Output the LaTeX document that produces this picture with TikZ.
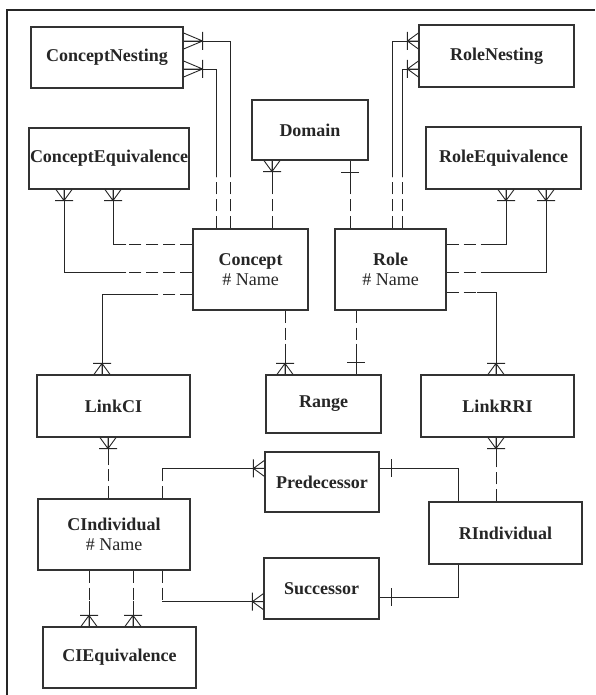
\documentclass[tikz,border=0pt]{standalone}
\usepackage{fontspec}
\setmainfont{Liberation Serif}
\usetikzlibrary{calc}

\tikzset{
  ent/.style={draw=black!80, line width=1.2pt, fill=white, align=center, inner sep=0pt,
    font=\fontsize{18}{20}\selectfont\bfseries},
  opt/.style={dash pattern=on 12pt off 5pt},
  pics/crow/.style={code={
    \draw (0,-8) -- (#1,0) (0,0) -- (#1,0) (0,8) -- (#1,0) (#1,-9) -- (#1,9);}},
  pics/crow/.default=11,
  pics/one/.style={code={\draw (12,-9) -- (12,9);}}
}

\begin{document}
\begin{tikzpicture}[x=1pt, y=-1pt, line width=0.9pt, color=black!85]
  \useasboundingbox (0,0) rectangle (595,695);
  \draw[line width=1.2pt] (7,695) -- (7,10) -- (595,10);

  % entities
  \node[ent, minimum width=152pt, minimum height=61pt] (CNest)   at (107,57.5)   {ConceptNesting};
  \node[ent, minimum width=160pt, minimum height=61pt] (CEq)     at (109,158.5)  {ConceptEquivalence};
  \node[ent, minimum width=116pt, minimum height=60pt] (Domain)  at (310,130)    {Domain};
  \node[ent, minimum width=155pt, minimum height=62pt] (RNest)   at (496.5,56)   {RoleNesting};
  \node[ent, minimum width=155pt, minimum height=62pt] (REq)     at (503.5,158)  {RoleEquivalence};
  \node[ent, minimum width=115pt, minimum height=81pt] (Concept) at (250.5,269.5) {Concept\\{\mdseries \# Name}};
  \node[ent, minimum width=111pt, minimum height=81pt] (Role)    at (390.5,269.5) {Role\\{\mdseries \# Name}};
  \node[ent, minimum width=153pt, minimum height=62pt] (LinkCI)  at (113.5,406)  {LinkCI};
  \node[ent, minimum width=115pt, minimum height=58pt] (Range)   at (323.5,404)  {Range};
  \node[ent, minimum width=153pt, minimum height=62pt] (LinkRRI) at (497.5,406)  {LinkRRI};
  \node[ent, minimum width=114pt, minimum height=60pt] (Pred)    at (322,482)    {Predecessor};
  \node[ent, minimum width=152pt, minimum height=71pt] (CInd)    at (114,534.5)  {CIndividual\\{\mdseries \# Name}};
  \node[ent, minimum width=153pt, minimum height=62pt] (RInd)    at (505.5,533)  {RIndividual};
  \node[ent, minimum width=115pt, minimum height=61pt] (Succ)    at (321.5,588.5) {Successor};
  \node[ent, minimum width=153pt, minimum height=61pt] (CIEq)    at (119.5,657.5) {CIEquivalence};

  % Concept -- ConceptNesting
  \draw[opt] (Concept.north -| 230,0) -- ++(0,-51) coordinate (a1);
  \draw (a1) |- (CNest.east |- 0,41);
  \draw[opt] (Concept.north -| 216,0) -- ++(0,-51) coordinate (a2);
  \draw (a2) |- (CNest.east |- 0,69);
  \pic at (CNest.east |- 0,41) {crow=19};
  \pic at (CNest.east |- 0,69) {crow=19};
  % Concept -- Domain
  \draw[opt] (Concept.north -| 272,0) -- ++(0,-37) coordinate (a3);
  \draw (a3) -- (Domain.south -| 272,0);
  \pic[rotate=-90] at (Domain.south -| 272,0) {crow};
  % Concept -- ConceptEquivalence
  \draw[opt] (Concept.west |- 0,244) -- ++(-66,0) coordinate (a4);
  \draw (a4) -| (CEq.south -| 113,0);
  \draw[opt] (Concept.west |- 0,272) -- ++(-66,0) coordinate (a5);
  \draw (a5) -| (CEq.south -| 64,0);
  \pic[rotate=-90] at (CEq.south -| 113,0) {crow};
  \pic[rotate=-90] at (CEq.south -| 64,0) {crow};
  % Concept -- LinkCI
  \draw[opt] (Concept.west |- 0,294) -- ++(-43,0) coordinate (a6);
  \draw (a6) -| (LinkCI.north -| 102,0);
  \pic[rotate=90] at (LinkCI.north -| 102,0) {crow};
  % Concept -- Range
  \draw[opt] (Concept.south -| 285,0) -- ++(0,33) coordinate (a7);
  \draw (a7) -- (Range.north -| 285,0);
  \pic[rotate=90] at (Range.north -| 285,0) {crow};

  % Role -- Domain
  \draw[opt] (Role.north -| 350,0) -- ++(0,-40) coordinate (b1);
  \draw (b1) -- (Domain.south -| 350,0);
  \pic[rotate=-90] at (Domain.south -| 350,0) {one};
  % Role -- RoleNesting
  \draw[opt] (Role.north -| 392,0) -- ++(0,-51) coordinate (b2);
  \draw (b2) |- (RNest.west |- 0,41);
  \draw[opt] (Role.north -| 402,0) -- ++(0,-51) coordinate (b3);
  \draw (b3) |- (RNest.west |- 0,69);
  \pic[rotate=180] at (RNest.west |- 0,41) {crow};
  \pic[rotate=180] at (RNest.west |- 0,69) {crow};
  % Role -- RoleEquivalence
  \draw[opt] (Role.east |- 0,244) -- ++(36,0) coordinate (b4);
  \draw (b4) -| (REq.south -| 506,0);
  \draw[opt] (Role.east |- 0,272) -- ++(46,0) coordinate (b5);
  \draw (b5) -| (REq.south -| 546,0);
  \pic[rotate=-90] at (REq.south -| 506,0) {crow};
  \pic[rotate=-90] at (REq.south -| 546,0) {crow};
  % Role -- LinkRRI
  \draw[opt] (Role.east |- 0,292) -- ++(30,0) coordinate (b6);
  \draw (b6) -| (LinkRRI.north -| 496,0);
  \pic[rotate=90] at (LinkRRI.north -| 496,0) {crow};
  % Role -- Range
  \draw[opt] (Role.south -| 356,0) -- ++(0,33) coordinate (b7);
  \draw (b7) -- (Range.north -| 356,0);
  \pic[rotate=90] at (Range.north -| 356,0) {one};

  % LinkCI -- CIndividual
  \draw[opt] (CInd.north -| 108,0) -- ++(0,-33) coordinate (c1);
  \draw (c1) -- (LinkCI.south -| 108,0);
  \pic[rotate=-90] at (LinkCI.south -| 108,0) {crow};
  % CIndividual -- Predecessor, Successor
  \draw[opt] (CInd.north -| 162,0) -- ++(0,-30) coordinate (c2);
  \draw (c2) -- (Pred.west |- c2);
  \pic[rotate=180] at (Pred.west |- c2) {crow};
  \draw[opt] (CInd.south -| 162,0) -- ++(0,31) coordinate (c3);
  \draw (c3) -- (Succ.west |- c3);
  \pic[rotate=180] at (Succ.west |- c3) {crow};
  % CIndividual -- CIEquivalence
  \draw[opt] (CInd.south -| 89,0) -- ++(0,30) coordinate (c4);
  \draw (c4) -- (CIEq.north -| 89,0);
  \draw[opt] (CInd.south -| 133,0) -- ++(0,30) coordinate (c5);
  \draw (c5) -- (CIEq.north -| 133,0);
  \pic[rotate=90] at (CIEq.north -| 89,0) {crow};
  \pic[rotate=90] at (CIEq.north -| 133,0) {crow};

  % LinkRRI -- RIndividual
  \draw[opt] (RInd.north -| 496,0) -- ++(0,-38) coordinate (c6);
  \draw (c6) -- (LinkRRI.south -| 496,0);
  \pic[rotate=-90] at (LinkRRI.south -| 496,0) {crow};
  % RIndividual -- Predecessor, Successor
  \draw (RInd.north -| 458,0) |- (Pred.east |- 0,468);
  \pic at (Pred.east |- 0,468) {one};
  \draw (RInd.south -| 458,0) |- (Succ.east |- 0,597);
  \pic at (Succ.east |- 0,597) {one};
\end{tikzpicture}
\end{document}
